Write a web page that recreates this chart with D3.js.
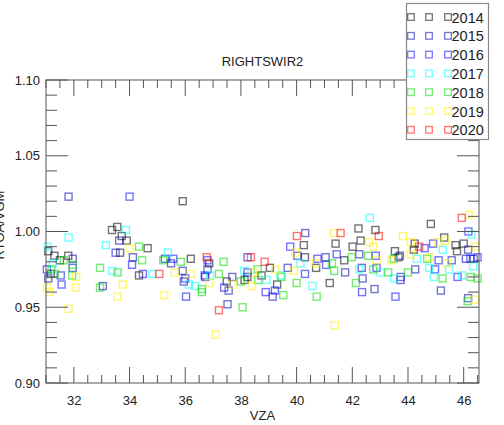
<!DOCTYPE html>
<html><head><meta charset="utf-8">
<script src="https://cdn.jsdelivr.net/npm/d3@7"></script>
<style>body{margin:0;background:#fff}svg{display:block;font-family:"Liberation Sans",Arial,sans-serif}</style>
</head><body>
<svg id="c" width="504" height="425"></svg>
<script>
const years = ["2014","2015","2016","2017","2018","2019","2020"];
const colors = ["#000000","#0000b0","#0000ff","#00ffff","#00dd00","#ffee00","#ff0000"];
const xTicks = [32,34,36,38,40,42,44,46];
const yTicks = [0.90,0.95,1.00,1.05,1.10];
const title = "RIGHTSWIR2", xTitle = "VZA", yTitle = "RTOA/VGM";

const s2014 = [[35.91,1.020],[33.56,1.003],[33.37,1.001],[33.72,0.997],[33.90,0.994],[31.80,0.984],[33.66,0.986],[34.65,0.989],[36.20,0.982],[34.34,0.971],[31.08,0.987],[31.30,0.984],[31.50,0.981],[31.17,0.972],[41.40,0.992],[40.26,0.991],[40.30,0.983],[36.86,0.979],[41.71,0.981],[40.70,0.976],[37.49,0.967],[38.23,0.970],[38.13,0.968],[38.74,0.971],[39.04,0.976],[39.30,0.965],[41.19,0.966],[44.82,1.005],[42.22,1.002],[42.83,1.001],[42.30,0.994],[42.01,0.990],[44.24,0.992],[44.21,0.988],[43.53,0.987],[43.66,0.983],[45.30,0.996],[45.71,0.991],[46.00,0.992],[45.76,0.987]];
const s2015 = [[31.81,1.023],[33.63,0.994],[34.12,0.983],[35.27,0.982],[35.49,0.979],[35.91,0.974],[35.95,0.967],[36.72,0.970],[33.04,0.964],[40.31,0.999],[40.03,0.984],[38.24,0.983],[41.04,0.983],[41.74,0.973],[36.80,0.975],[37.69,0.970],[37.56,0.961],[39.68,0.976],[39.14,0.957],[37.52,0.952],[42.25,0.985],[42.34,0.976],[42.37,0.969],[42.80,0.962],[43.71,0.984],[46.08,0.982],[46.36,0.982],[46.16,0.988],[45.57,0.981],[44.26,0.975],[43.73,0.968],[45.18,0.961],[46.16,0.956],[31.08,0.969],[31.96,0.982]];
const s2016 = [[34.00,1.023],[33.50,0.986],[34.09,0.978],[35.57,0.982],[31.96,0.976],[34.48,0.972],[36.00,0.969],[31.56,0.965],[36.03,0.957],[39.77,0.990],[36.80,0.981],[40.75,0.982],[41.44,0.985],[41.06,0.978],[36.70,0.971],[37.40,0.963],[38.24,0.973],[39.22,0.961],[38.89,0.960],[40.30,0.972],[46.17,1.000],[42.84,0.984],[42.87,0.976],[42.35,0.960],[44.60,0.989],[44.90,0.992],[46.24,0.982],[46.50,0.983],[45.10,0.981],[44.97,0.975],[43.74,0.970],[45.78,0.970],[43.55,0.957],[31.03,0.975],[31.53,0.971]];
const s2017 = [[33.87,1.001],[31.81,0.996],[33.15,0.991],[35.38,0.986],[33.38,0.974],[34.82,0.972],[36.13,0.965],[36.35,0.964],[31.06,0.990],[31.24,0.979],[40.14,0.979],[38.12,0.974],[38.92,0.968],[39.42,0.971],[40.57,0.964],[42.63,1.009],[46.28,0.998],[42.25,0.975],[43.01,0.973],[44.32,0.982],[45.25,0.988],[44.76,0.976],[45.47,0.975],[46.34,0.977],[43.50,0.969],[44.93,0.970],[45.94,0.971],[36.89,0.971]];
const s2018 = [[34.34,0.990],[31.64,0.981],[34.45,0.981],[35.21,0.981],[35.84,0.980],[32.94,0.976],[33.57,0.973],[31.94,0.971],[36.60,0.962],[36.60,0.960],[32.94,0.963],[37.38,0.980],[41.27,0.979],[41.35,0.974],[37.21,0.972],[38.00,0.967],[38.60,0.975],[38.62,0.968],[39.46,0.970],[39.52,0.958],[40.00,0.966],[40.72,0.957],[38.06,0.950],[41.98,0.983],[42.57,0.984],[42.75,0.975],[43.29,0.973],[42.13,0.966],[43.49,0.982],[44.69,0.982],[44.00,0.973],[45.24,0.969],[46.25,0.970],[46.50,0.969],[46.14,0.954],[31.20,0.975],[31.32,0.972],[31.96,0.978]];
const s2019 = [[33.99,0.989],[35.62,0.973],[36.19,0.972],[32.07,0.963],[33.76,0.965],[33.56,0.957],[35.25,0.958],[31.81,0.949],[31.03,0.963],[31.12,0.960],[32.08,0.970],[41.34,0.999],[39.95,0.986],[40.70,0.979],[36.86,0.966],[37.70,0.965],[38.44,0.973],[38.38,0.964],[39.23,0.975],[39.90,0.974],[37.10,0.932],[41.37,0.938],[46.19,1.011],[42.60,0.993],[42.75,0.990],[42.87,0.981],[43.82,0.997],[44.10,0.993],[44.09,0.985],[43.41,0.981],[44.78,0.983],[45.08,0.993],[45.33,0.994],[45.40,0.979],[46.43,0.990],[46.40,0.955]];
const s2020 = [[36.77,0.983],[35.07,0.972],[40.01,0.997],[41.58,0.999],[38.36,0.983],[38.85,0.980],[37.21,0.948],[45.93,1.009],[42.95,0.997],[44.40,0.990]];
const series = [s2014,s2015,s2016,s2017,s2018,s2019,s2020];

const svg = d3.select("#c");
const L=46, R=479, T=80, B=383;
const x = d3.scaleLinear().domain([31.0,46.55]).range([L,R]);
const y = d3.scaleLinear().domain([0.90,1.10]).range([B,T]);
const axisCol = "#555";

// points
series.forEach((pts,i)=>{
  svg.append("g").selectAll("rect").data(pts).join("rect")
    .attr("x",d=>x(d[0])-3.5).attr("y",d=>y(d[1])-3.5)
    .attr("width",7).attr("height",7)
    .attr("fill","none").attr("stroke",colors[i]).attr("stroke-width",1.4)
    .attr("stroke-opacity",i===0?0.55:0.55);
});

// axes
const xMinor = d3.range(31.0,46.55,0.5).filter(v=>Math.abs(v/2-Math.round(v/2))>1e-6);
const yMinor = d3.range(0.90,1.1001,0.01).map(v=>+v.toFixed(2)).filter(v=>Math.round(v*100)%5!==0);
function axes(){
  const g = svg.append("g").attr("stroke",axisCol).attr("stroke-width",1).attr("fill","none");
  g.append("rect").attr("x",L).attr("y",T).attr("width",R-L).attr("height",B-T);
  const bx = d3.axisBottom(x).tickValues(xTicks).tickSize(0).tickFormat("");
  [[xTicks,16],[xMinor,8]].forEach(([vals,len])=>{
    vals.forEach(v=>{
      g.append("line").attr("x1",x(v)).attr("x2",x(v)).attr("y1",B).attr("y2",B-len);
      g.append("line").attr("x1",x(v)).attr("x2",x(v)).attr("y1",T).attr("y2",T+len);
    });
  });
  [[yTicks,22],[yMinor,11]].forEach(([vals,len])=>{
    vals.forEach(v=>{
      g.append("line").attr("y1",y(v)).attr("y2",y(v)).attr("x1",L).attr("x2",L+len);
      g.append("line").attr("y1",y(v)).attr("y2",y(v)).attr("x1",R).attr("x2",R-len);
    });
  });
  // labels via d3 axes
  const xa = svg.append("g").attr("transform",`translate(0,${B})`)
    .call(d3.axisBottom(x).tickValues(xTicks).tickSize(0).tickPadding(13).tickFormat(d3.format("d")));
  xa.select(".domain").remove();
  xa.selectAll("text").attr("font-size",13).attr("fill","#222").attr("font-family","Liberation Sans, Arial, sans-serif");
  const ya = svg.append("g").attr("transform",`translate(${L},0)`)
    .call(d3.axisLeft(y).tickValues(yTicks).tickSize(0).tickPadding(6).tickFormat(d3.format(".2f")));
  ya.select(".domain").remove();
  ya.selectAll("text").attr("font-size",13).attr("fill","#222").attr("font-family","Liberation Sans, Arial, sans-serif");
}
axes();

svg.append("text").attr("x",(L+R)/2).attr("y",66).attr("text-anchor","middle")
  .attr("font-size",13).attr("fill","#222").text(title);
svg.append("text").attr("x",(L+R)/2).attr("y",420).attr("text-anchor","middle")
  .attr("font-size",13).attr("fill","#222").text(xTitle);
svg.append("text").attr("transform","translate(4,225) rotate(-90)").attr("text-anchor","middle")
  .attr("font-size",13).attr("fill","#222").text(yTitle);

// legend
const lg = svg.append("g");
lg.append("rect").attr("x",406.5).attr("y",3.5).attr("width",82).attr("height",136)
  .attr("fill","#fff").attr("stroke","#888").attr("stroke-width",1.2);
years.forEach((yr,i)=>{
  const cy = 17 + i*18.8;
  [411,429,448].forEach(cx=>{
    lg.append("rect").attr("x",cx-3.3).attr("y",cy-3.3).attr("width",6.6).attr("height",6.6)
      .attr("fill","none").attr("stroke",colors[i]).attr("stroke-width",1.3).attr("stroke-opacity",0.55);
  });
  lg.append("text").attr("x",451.5).attr("y",cy+5.5).attr("font-size",14.5).attr("fill","#222").text(yr);
});
</script>
</body></html>
